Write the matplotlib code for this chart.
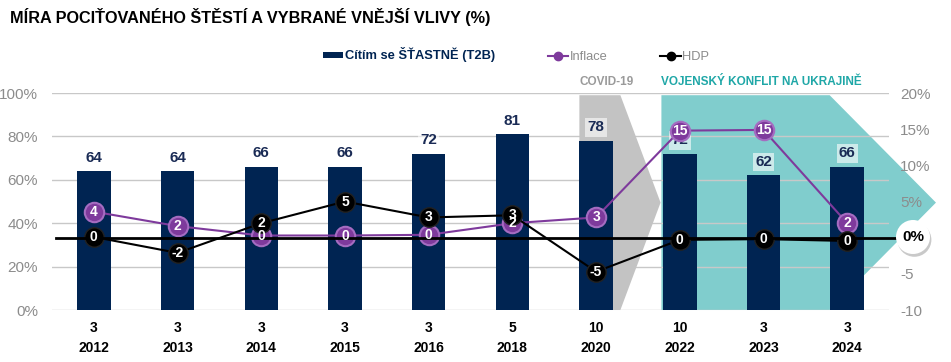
import matplotlib.pyplot as plt
from matplotlib.patches import Polygon, Ellipse
from matplotlib.lines import Line2D
import matplotlib.patheffects as pe

plt.rcParams['font.family'] = ['Liberation Sans', 'DejaVu Sans']

years = ['2012', '2013', '2014', '2015', '2016', '2018', '2020', '2022', '2023', '2024']
n_labels = ['3', '3', '3', '3', '3', '5', '10', '10', '3', '3']
happy = [64, 64, 66, 66, 72, 81, 78, 72, 62, 66]
inflace = [3.6, 1.6, 0.3, 0.3, 0.4, 2.0, 2.8, 14.8, 14.9, 2.0]
hdp = [0.1, -2.1, 2.0, 5.0, 2.8, 3.1, -4.7, -0.3, -0.2, -0.45]

navy = '#002452'
purple = '#7E3A9C'
teal = '#80CDCD'
grey_shape = '#C3C3C3'
tick_grey = '#8C8C8C'

fig = plt.figure(figsize=(9.51, 3.62), dpi=100)
ax = fig.add_axes([0.0547, 0.1436, 0.8802, 0.5994])
ax2 = ax.twinx()

x = list(range(len(years)))

# pozadi - chevrony
ax.add_patch(Polygon([(5.8, 0), (5.8, 99), (6.29, 99), (6.77, 49.5), (6.29, 0)],
                     closed=True, facecolor=grey_shape, edgecolor='none', zorder=0.7, clip_on=False))
ax.add_patch(Polygon([(6.78, 0), (6.78, 99), (8.79, 99), (10.06, 49.5), (8.79, 0)],
                     closed=True, facecolor=teal, edgecolor='none', zorder=0.3, clip_on=False))

ax.set_axisbelow(False)
ax.set_ylim(0, 100)
ax.set_xlim(-0.5, len(years) - 0.5)
ax.set_yticks([0, 20, 40, 60, 80, 100])
ax.set_yticklabels(['0%', '20%', '40%', '60%', '80%', '100%'])
for yv in [20, 40, 60, 80, 100]:
    ax.axhline(yv, color='#C8C8C8', lw=1, zorder=0.5)
ax.axhline(0, color='#C8C8C8', lw=1, zorder=0.8)

ax.bar(x, happy, width=0.4, color=navy, zorder=2)
for xi, v in zip(x, happy):
    ax.text(xi, v + 3, str(v), ha='center', va='bottom', fontsize=11, fontweight='bold',
            color='#1A2B55', zorder=3,
            bbox=dict(boxstyle='square,pad=0.15', facecolor='white', alpha=0.6, edgecolor='none'))

ax2.set_ylim(-10, 20)
ax2.set_yticks([-10, -5, 0, 5, 10, 15, 20])
ax2.set_yticklabels(['-10', '-5', '', '5%', '10%', '15%', '20%'])

ax2.plot(x, inflace, color=purple, lw=1.5, marker='o', markersize=14,
         markerfacecolor=purple, markeredgecolor='#A56CC1', markeredgewidth=1.5, zorder=5)
ax2.plot(x, hdp, color='black', lw=1.5, marker='o', markersize=14,
         markerfacecolor='black', markeredgecolor='#222222', markeredgewidth=1, zorder=6)
ax2.axhline(0, xmin=0.005, xmax=1.01, color='black', lw=2, zorder=6.5, clip_on=False)
for xi, v in zip(x, inflace):
    ax2.text(xi, v, str(round(v)), ha='center', va='center', color='white',
             fontsize=10, fontweight='bold', zorder=7)
for xi, v in zip(x, hdp):
    ax2.text(xi, v, str(round(v)), ha='center', va='center',
             color='white', fontsize=10, fontweight='bold', zorder=8)

for a in (ax, ax2):
    for s in a.spines.values():
        s.set_visible(False)
    a.tick_params(axis='both', length=0, labelsize=11, labelcolor=tick_grey)
ax.tick_params(axis='y', pad=10)
ax2.tick_params(axis='y', pad=8)
ax.set_xticks(x)
ax.set_xticklabels(n_labels, fontsize=10, fontweight='bold', color='black')
ax.tick_params(axis='x', labelcolor='black', pad=8)
for xi, yr in zip(x, years):
    ax.text(xi, -14.5, yr, ha='center', va='top', fontsize=10, fontweight='bold', color='black')

# 0% bublina
bub = Ellipse((913 / 951, 1 - 237 / 362), 34 / 951, 34 / 362, transform=fig.transFigure,
              facecolor='white', edgecolor='none', zorder=10,
              path_effects=[pe.SimplePatchShadow(offset=(1, -2), alpha=0.3), pe.Normal()])
fig.patches.append(bub)
fig.text(913 / 951, 1 - 237 / 362, '0%', ha='center', va='center', fontsize=11,
         fontweight='bold', color='black', zorder=11)

# nadpisy useku
ax.text(5.8, 105, 'COVID-19', ha='left', va='center', fontsize=8.5, fontweight='bold', color='#9A9A9A')
ax.text(6.78, 105, 'VOJENSKÝ KONFLIT NA UKRAJINĚ', ha='left', va='center', fontsize=8.5,
        fontweight='bold', color='#1FA7A7')

fig.text(0.011, 1 - 17 / 362, 'MÍRA POCIŤOVANÉHO ŠTĚSTÍ A VYBRANÉ VNĚJŠÍ VLIVY (%)',
         ha='left', va='center', fontsize=11.7, fontweight='bold', color='black')

handles = [plt.Rectangle((0, 0), 1, 1, facecolor=navy),
           Line2D([], [], color=purple, marker='o', markersize=6, lw=1.5),
           Line2D([], [], color='black', marker='o', markersize=6, lw=1.5)]
leg = fig.legend(handles, ['Cítím se ŠŤASTNĚ (T2B)', 'Inflace', 'HDP'], ncol=3, frameon=False,
                 loc='center', bbox_to_anchor=(516 / 951, 1 - 55 / 362), fontsize=9.3,
                 handlelength=1.6, handleheight=0.35, handletextpad=0.1, columnspacing=4.1)
txts = leg.get_texts()
txts[0].set_color(navy)
txts[0].set_fontweight('bold')
txts[1].set_color(tick_grey)
txts[2].set_color(tick_grey)

fig.savefig('out.png', dpi=100)
